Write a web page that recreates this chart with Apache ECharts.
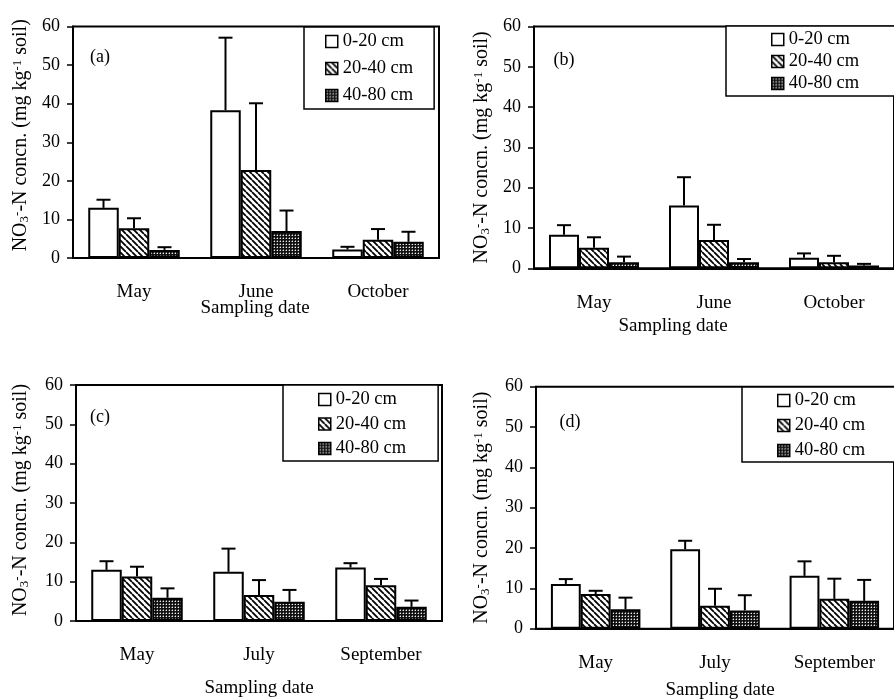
<!DOCTYPE html>
<html>
<head>
<meta charset="utf-8">
<script src="https://cdn.jsdelivr.net/npm/echarts@6/dist/echarts.min.js"></script>
<style>
  html, body { margin: 0; padding: 0; background: #fff; }
  #chart { width: 894px; height: 700px; }
</style>
</head>
<body>
<div id="chart"></div>
<script>
const months1 = ['May', 'June', 'October'];
const months2 = ['May', 'July', 'September'];
const depths = ['0-20 cm', '20-40 cm', '40-80 cm'];
const yTicks = [0, 10, 20, 30, 40, 50, 60];

// means and upper error per depth (0-20, 20-40, 40-80), one value per month
const meanA = [[13.0, 38.3, 2.2], [7.7, 22.8, 4.7], [2.1, 7.0, 4.2]];
const errA  = [[2.1, 18.8, 0.7], [2.6, 17.3, 2.8], [0.7, 5.3, 2.6]];
const meanB = [[8.3, 15.6, 2.6], [5.1, 7.0, 1.5], [1.5, 1.5, 0.7]];
const errB  = [[2.4, 7.0, 1.1], [2.6, 3.8, 1.6], [1.4, 0.8, 0.4]];
const meanC = [[13.0, 12.5, 13.6], [11.3, 6.6, 9.1], [5.9, 4.9, 3.6]];
const errC  = [[2.2, 5.9, 1.1], [2.5, 3.8, 1.6], [2.4, 3.0, 1.6]];
const meanD = [[11.1, 19.7, 13.1], [8.6, 5.7, 7.4], [4.8, 4.5, 6.9]];
const errD  = [[1.2, 2.1, 3.6], [0.8, 4.2, 5.0], [2.9, 3.8, 5.2]];

const FONT = "'Liberation Serif', 'Times New Roman', serif";

// fill patterns
function hatch() {
  const c = document.createElement('canvas');
  c.width = 6; c.height = 6;
  const g = c.getContext('2d');
  g.fillStyle = '#fff'; g.fillRect(0, 0, 6, 6);
  g.strokeStyle = '#000'; g.lineWidth = 1.8;
  g.beginPath();
  for (const o of [-6, 0, 6]) { g.moveTo(o, 0); g.lineTo(o + 6, 6); }
  g.stroke();
  return c;
}
function dots() {
  const c = document.createElement('canvas');
  c.width = 3; c.height = 3;
  const g = c.getContext('2d');
  g.fillStyle = '#111'; g.fillRect(0, 0, 3, 3);
  g.fillStyle = '#eee'; g.fillRect(1, 1, 1, 1);
  g.fillStyle = '#666'; g.fillRect(0, 1, 1, 1); g.fillRect(1, 0, 1, 1);
  return c;
}
const fills = ['#fff', {image: hatch(), repeat: 'repeat'}, {image: dots(), repeat: 'repeat'}];

const panels = [
  {cats: months1, mean: meanA, err: errA, grid: {left: 73, top: 26.5, width: 366, height: 231.5},
   legend: {left: 304, top: 27, itemGap: 8, padding: [5, 21, 4, 21]}, tag: [100, 57], xname: [255, 308],
   nameGap: 42, namePad: [0, 0, 0, 14]},
  {cats: months1, mean: meanB, err: errB, grid: {left: 534, top: 26.5, width: 370.5, height: 241.8},
   legend: {left: 726, top: 26, itemGap: 3, padding: [4, 60, 3, 45]}, tag: [564, 60], xname: [673, 326],
   nameGap: 42, namePad: [0, 0, 0, 0]},
  {cats: months2, mean: meanC, err: errC, grid: {left: 76, top: 385, width: 366, height: 236},
   legend: {left: 283, top: 385, itemGap: 5.5, padding: [5, 32, 3, 35]}, tag: [100, 417], xname: [259, 688],
   nameGap: 45, namePad: [0, 0, 0, 6]},
  {cats: months2, mean: meanD, err: errD, grid: {left: 536, top: 386.7, width: 367.5, height: 242},
   legend: {left: 742, top: 387, itemGap: 6, padding: [4, 60, 2, 35]}, tag: [570, 422], xname: [720, 690],
   nameGap: 44, namePad: [0, 0, 0, 0]}
];

const grid = [], xAxis = [], yAxis = [], legend = [], series = [], graphic = [];

panels.forEach((p, i) => {
  grid.push(Object.assign({show: true, borderColor: '#000', borderWidth: 2, backgroundColor: 'transparent'}, p.grid));
  xAxis.push({
    type: 'category', gridIndex: i, data: p.cats,
    axisLine: {lineStyle: {color: '#000', width: 2}},
    axisTick: {length: 6, lineStyle: {color: '#000', width: 1.5}},
    axisLabel: {color: '#000', fontSize: 19, fontFamily: FONT, margin: 25}
  });
  yAxis.push({
    type: 'value', gridIndex: i, min: yTicks[0], max: yTicks[yTicks.length - 1], interval: 10,
    splitLine: {show: false},
    axisLine: {show: true, lineStyle: {color: '#000', width: 2}},
    axisTick: {show: true, length: 6, lineStyle: {color: '#000', width: 1.5}},
    axisLabel: {color: '#000', fontSize: 18, fontFamily: FONT, margin: 13},
    name: 'NO{sub|3}{sup|-}-N concn. (mg kg{sup|-1} soil)',
    nameLocation: 'middle', nameGap: p.nameGap,
    nameTextStyle: {
      color: '#000', fontSize: 20, fontFamily: FONT, padding: p.namePad,
      rich: {
        sub: {fontSize: 13, fontFamily: FONT, color: '#000', verticalAlign: 'bottom'},
        sup: {fontSize: 13, fontFamily: FONT, color: '#000', verticalAlign: 'top'}
      }
    }
  });
  legend.push(Object.assign({
    orient: 'vertical', data: depths, selectedMode: false,
    icon: 'rect', itemWidth: 12, itemHeight: 12, itemTextGap: 5,
    borderColor: '#000', borderWidth: 1.5, backgroundColor: '#fff',
    itemStyle: {borderColor: '#000', borderWidth: 1.5},
    textStyle: {color: '#000', fontSize: 18.5, fontFamily: FONT}
  }, p.legend));

  const errData = [];
  depths.forEach((d, j) => {
    series.push({
      type: 'bar', name: d, xAxisIndex: i, yAxisIndex: i,
      data: p.mean[j], barWidth: '25%', barGap: '0%',
      itemStyle: {color: fills[j], borderColor: '#000', borderWidth: 2},
      emphasis: {disabled: true}
    });
    p.mean[j].forEach((m, k) => errData.push([k, m, p.err[j][k], j]));
  });
  series.push({
    type: 'custom', name: 'err' + i, xAxisIndex: i, yAxisIndex: i,
    data: errData, encode: {x: 0, y: 1}, z: 3,
    renderItem(params, api) {
      const cat = api.value(0), m = api.value(1), e = api.value(2), j = api.value(3);
      const p0 = api.coord([cat, m]);
      const p1 = api.coord([cat, m + e]);
      const cw = api.size([1, 0])[0];
      const x = p0[0] + (j - 1) * cw * 0.25;
      const hw = 7;
      return {type: 'group', children: [
        {type: 'line', shape: {x1: x, y1: p0[1], x2: x, y2: p1[1]}, style: {stroke: '#000', lineWidth: 2}},
        {type: 'line', shape: {x1: x - hw, y1: p1[1], x2: x + hw, y2: p1[1]}, style: {stroke: '#000', lineWidth: 2}}
      ]};
    }
  });

  graphic.push({type: 'text', x: p.tag[0], y: p.tag[1],
    style: {text: '(' + 'abcd'[i] + ')', fontSize: 18, fontFamily: FONT, fill: '#000', align: 'center', verticalAlign: 'middle'}});
  graphic.push({type: 'text', x: p.xname[0], y: p.xname[1],
    style: {text: 'Sampling date', fontSize: 19, fontFamily: FONT, fill: '#000', align: 'center', verticalAlign: 'middle'}});
});

const chart = echarts.init(document.getElementById('chart'));
chart.setOption({
  animation: false,
  backgroundColor: '#fff',
  grid, xAxis, yAxis, legend, series, graphic
});
</script>
</body>
</html>
